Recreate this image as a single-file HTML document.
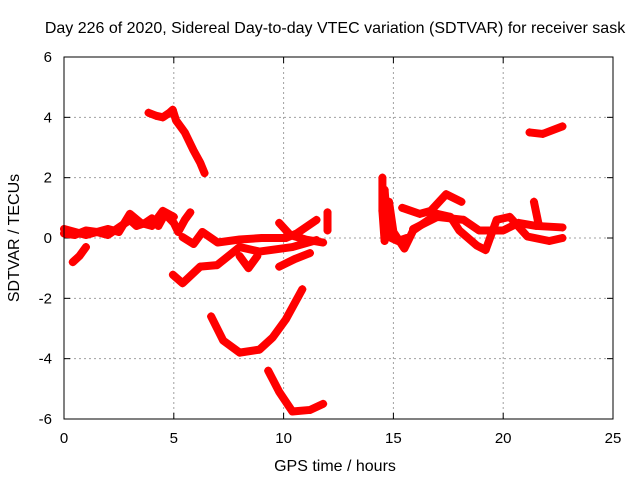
<!DOCTYPE html>
<html><head><meta charset="utf-8"><style>
body{margin:0;background:#fff}
svg text{font-family:"Liberation Sans",sans-serif;font-size:15px;fill:#000}
svg text.big{font-size:16px}
</style></head><body>
<svg id="chart" width="640" height="480" xmlns="http://www.w3.org/2000/svg">
<text class="big" x="335" y="33" text-anchor="middle">Day 226 of 2020, Sidereal Day-to-day VTEC variation (SDTVAR) for receiver sask</text>
<text class="big" x="335" y="471" text-anchor="middle">GPS time / hours</text>
<text class="big" transform="translate(19,238) rotate(-90)" text-anchor="middle">SDTVAR / TECUs</text>
<g id="grid"></g><g id="marks"></g>
<rect x="64" y="57" width="549" height="362" fill="none" stroke="#000" stroke-width="1"/>
</svg>
<script>
const xTicks=[0,5,10,15,20,25];
const yTicks=[-6,-4,-2,0,2,4,6];
const trackA=[[0,0.15],[0.5,0.1],[1,0.25],[1.5,0.2],[2,0.1],[2.5,0.35],[3,0.6],[3.3,0.4],[3.7,0.5],[4,0.65],[4.3,0.4],[4.6,0.8],[5,0.5],[5.2,0.2],[5.5,0.6],[5.75,0.85]];
const trackA2=[[0,0.3],[1,0.1],[2,0.3],[2.5,0.2],[3,0.8],[3.5,0.5],[4,0.4],[4.5,0.9],[5,0.7]];
const trackA3=[[0.4,-0.8],[0.7,-0.6],[1,-0.3]];
const trackB=[[3.85,4.15],[4.2,4.05],[4.5,4.0],[4.8,4.15],[4.95,4.25],[5.1,3.9],[5.5,3.5],[5.9,2.9],[6.2,2.5],[6.4,2.15]];
const trackC=[[5.4,0.03],[5.9,-0.2],[6.3,0.2],[7,-0.15],[8,-0.05],[9,0],[10.1,0.0],[10.6,0.15],[11.5,0.6]];
const trackC2=[[9.8,0.5],[10.3,0.1],[11,-0.05],[11.8,-0.15]];
const trackD=[[4.96,-1.22],[5.4,-1.5],[6.2,-0.95],[6.97,-0.9],[8,-0.3],[8.9,-0.45],[10.4,-0.3],[11.5,-0.07]];
const trackD2=[[8,-0.6],[8.4,-1],[8.8,-0.6]];
const trackE=[[9.8,-0.95],[10.5,-0.7],[11.2,-0.5]];
const trackF=[[6.7,-2.6],[7.25,-3.4],[8,-3.8],[8.9,-3.7],[9.5,-3.3],[10.1,-2.7],[10.85,-1.7]];
const trackG=[[9.3,-4.4],[9.8,-5.1],[10.4,-5.75],[11.2,-5.7],[11.8,-5.5]];
const trackP=[[12.0,0.85],[12.0,0.25]];
const trackH=[[14.5,2.0],[14.5,0.9],[14.6,-0.1],[14.8,1.2],[15.0,0.2],[15.5,-0.35],[15.9,0.25],[17,0.8],[17.6,0.7],[18.0,0.25],[18.8,-0.25],[19.2,-0.4],[19.7,0.6],[20.3,0.7],[21.1,0.05],[22.1,-0.1],[22.7,0.0]];
const trackH1=[[14.6,1.6],[14.7,0.6],[14.9,0.0],[15.2,-0.1],[15.6,0.0]];
const trackH2=[[15.4,1.0],[16.2,0.8],[16.7,0.9],[17.4,1.45],[18.1,1.2]];
const trackH3=[[15.9,0.3],[17,0.7],[18.2,0.6],[18.9,0.25],[20,0.25],[20.7,0.5],[21.5,0.4],[22.7,0.35]];
const trackH4=[[21.4,1.2],[21.6,0.5]];
const trackI=[[21.2,3.5],[21.8,3.45],[22.7,3.7]];
const tracks=[trackA,trackA2,trackA3,trackB,trackC,trackC2,trackD,trackD2,trackE,trackF,trackG,trackP,trackH,trackH1,trackH2,trackH3,trackH4,trackI];
const NS='http://www.w3.org/2000/svg';
const X=t=>64+t*(549/25);
const Y=v=>238-v*(362/12);
const grid=document.getElementById('grid'), marks=document.getElementById('marks');
function mk(tag,attrs,parent){const e=document.createElementNS(NS,tag);for(const k in attrs)e.setAttribute(k,attrs[k]);parent.appendChild(e);return e;}
xTicks.forEach(t=>{
 if(t>0&&t<25){const l=mk('line',{x1:X(t),x2:X(t),y1:57,y2:419,stroke:'#a0a0a0','stroke-dasharray':'2,3'},grid);
 
 }
 mk('line',{x1:X(t),x2:X(t),y1:419,y2:413,stroke:'#000'},grid);
 mk('line',{x1:X(t),x2:X(t),y1:57,y2:63,stroke:'#000'},grid);
 const tx=mk('text',{x:X(t),y:443,'text-anchor':'middle'},grid);tx.textContent=t;
 
 
});
yTicks.forEach(v=>{
 if(v>-6&&v<6){const l=mk('line',{x1:64,x2:613,y1:Y(v),y2:Y(v),stroke:'#a0a0a0','stroke-dasharray':'2,3'},grid);
 
 }
 mk('line',{x1:64,x2:70,y1:Y(v),y2:Y(v),stroke:'#000'},grid);
 mk('line',{x1:607,x2:613,y1:Y(v),y2:Y(v),stroke:'#000'},grid);
 const tx=mk('text',{x:52,y:Y(v)+5,'text-anchor':'end'},grid);tx.textContent=v;
 
 
});
tracks.forEach(tr=>{
 const g=mk('g',{},marks);
 
 
 if(tr.length>1){mk('polyline',{points:tr.map(p=>X(p[0])+','+Y(p[1])).join(' '),fill:'none',stroke:'#ff0000','stroke-width':8,'stroke-linejoin':'round','stroke-linecap':'round'},g);}
 tr.forEach(p=>{
  const m=mk('path',{d:`M${X(p[0])-4},${Y(p[1])}h8M${X(p[0])},${Y(p[1])-4}v8`,stroke:'#ff0000','stroke-width':1.5},g);
  
  
 });
});
</script>
</body></html>
